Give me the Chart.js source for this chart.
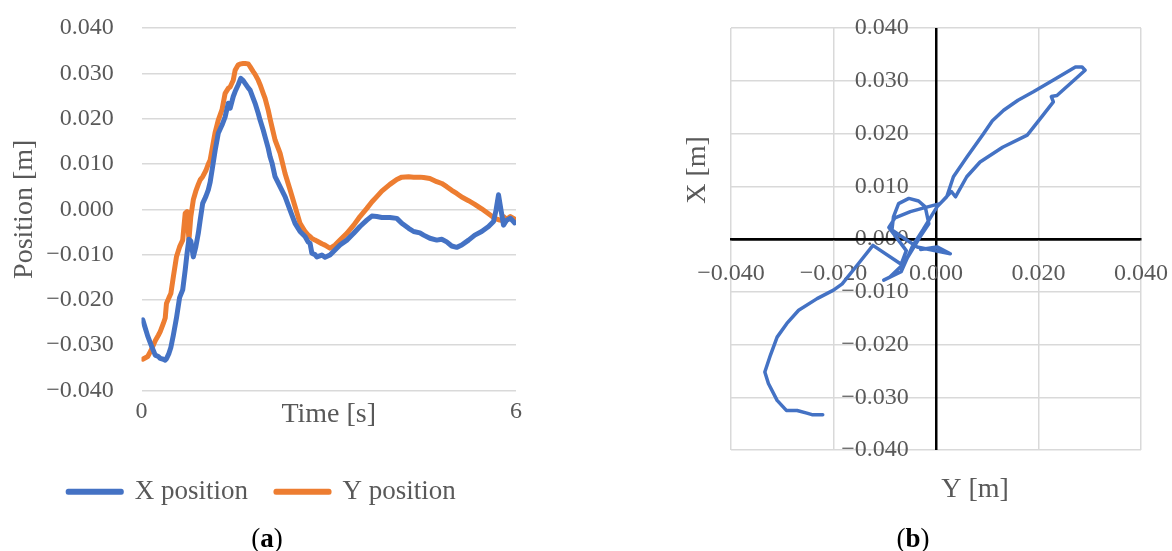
<!DOCTYPE html>
<html>
<head>
<meta charset="utf-8">
<script src="https://cdn.jsdelivr.net/npm/chart.js@4.4.1/dist/chart.umd.min.js"></script>
<style>
  html, body { margin: 0; padding: 0; background: #fff; }
  #wrap { position: relative; width: 1172px; height: 551px; overflow: hidden; font-family: 'Liberation Serif', 'Times New Roman', serif; }
  canvas { position: absolute; top: 0; }
  #chartTime { left: 0; }
  #chartPlane { left: 586px; }
  .cap { position: absolute; top: 522px; font-size: 27px; line-height: 32px; color: #000; transform: translateX(-50%); white-space: nowrap; }
</style>
</head>
<body>
<div id="wrap">
  <canvas id="chartTime" width="560" height="530"></canvas>
  <canvas id="chartPlane" width="586" height="551"></canvas>
  <div class="cap" style="left:267px">(<b>a</b>)</div>
  <div class="cap" style="left:913px">(<b>b</b>)</div>
</div>
<script>
// ---- (a) position over time ----
const time = [0.02, 0.10, 0.15, 0.22, 0.27, 0.30, 0.35, 0.38, 0.40, 0.44, 0.47, 0.51, 0.56, 0.61, 0.66, 0.70, 0.73, 0.76, 0.79, 0.83,
  0.87, 0.91, 0.94, 0.98, 1.03, 1.07, 1.10, 1.14, 1.18, 1.23, 1.29, 1.34, 1.39, 1.42, 1.47, 1.50, 1.55, 1.59, 1.63, 1.66,
  1.71, 1.74, 1.79, 1.82, 1.87, 1.90, 1.95, 1.98, 2.03, 2.06, 2.09, 2.14, 2.22, 2.30, 2.38, 2.46, 2.54, 2.62, 2.67, 2.70,
  2.73, 2.78, 2.81, 2.89, 2.94, 3.02, 3.10, 3.18, 3.29, 3.40, 3.50, 3.61, 3.69, 3.77, 3.85, 3.98, 4.09, 4.17, 4.28, 4.36,
  4.46, 4.52, 4.62, 4.73, 4.81, 4.89, 4.97, 5.05, 5.13, 5.24, 5.34, 5.45, 5.56, 5.64, 5.68, 5.72, 5.76, 5.80, 5.85, 5.91, 5.98];

const xPosition = [-0.0244, -0.0280, -0.0298, -0.0322, -0.0325, -0.0329, -0.0331, -0.0333, -0.0330, -0.0318, -0.0305, -0.0278, -0.0240, -0.0195, -0.0178, -0.0134, -0.0097, -0.0066, -0.0070, -0.0105,
  -0.0083, -0.0053, -0.0024, 0.0013, 0.0028, 0.0043, 0.0060, 0.0095, 0.0130, 0.0168, 0.0186, 0.0204, 0.0234, 0.0223, 0.0249, 0.0260, 0.0275, 0.0289, 0.0284, 0.0278,
  0.0268, 0.0263, 0.0245, 0.0234, 0.0212, 0.0197, 0.0175, 0.0160, 0.0135, 0.0116, 0.0103, 0.0072, 0.0050, 0.0028, -0.0002, -0.0031, -0.0049, -0.0060, -0.0072, -0.0075,
  -0.0097, -0.0100, -0.0105, -0.0101, -0.0106, -0.0101, -0.0090, -0.0079, -0.0068, -0.0053, -0.0038, -0.0024, -0.0015, -0.0016, -0.0018, -0.0018, -0.0020, -0.0031, -0.0042, -0.0049,
  -0.0052, -0.0057, -0.0064, -0.0068, -0.0066, -0.0072, -0.0081, -0.0084, -0.0079, -0.0068, -0.0057, -0.0049, -0.0038, -0.0027, -0.0002, 0.0032, -0.0002, -0.0035, -0.0024, -0.0020, -0.0030];

const yPosition = [-0.0331, -0.0325, -0.0312, -0.0290, -0.0278, -0.0270, -0.0252, -0.0240, -0.0208, -0.0195, -0.0186, -0.0149, -0.0105, -0.0083, -0.0068, -0.0009, -0.0005, -0.0068, -0.0016, 0.0021,
  0.0040, 0.0055, 0.0065, 0.0072, 0.0085, 0.0100, 0.0109, 0.0140, 0.0170, 0.0197, 0.0220, 0.0256, 0.0267, 0.0270, 0.0285, 0.0307, 0.0319, 0.0321, 0.0322, 0.0322,
  0.0321, 0.0315, 0.0304, 0.0298, 0.0285, 0.0275, 0.0256, 0.0245, 0.0219, 0.0200, 0.0182, 0.0153, 0.0124, 0.0079, 0.0043, 0.0006, -0.0031, -0.0049, -0.0057, -0.0060,
  -0.0064, -0.0068, -0.0070, -0.0076, -0.0079, -0.0086, -0.0079, -0.0068, -0.0053, -0.0035, -0.0016, 0.0002, 0.0016, 0.0028, 0.0040, 0.0055, 0.0066, 0.0071, 0.0072, 0.0071,
  0.0071, 0.0070, 0.0068, 0.0061, 0.0057, 0.0050, 0.0042, 0.0035, 0.0027, 0.0019, 0.0011, 0.0001, -0.0010, -0.0018, -0.0021, -0.0023, -0.0024, -0.0016, -0.0022, -0.0016, -0.0022];

const seriesNames = ['X position', 'Y position'];

// ---- (b) trajectory in the plane ----
const planeY = [-0.0221, -0.0242, -0.0252, -0.0271, -0.0292, -0.0310, -0.0327, -0.0334, -0.0323, -0.0310, -0.0291, -0.0268, -0.0232, -0.0200, -0.0183, -0.0150, -0.0123,
  -0.0068, -0.0058, -0.0092, -0.0080, -0.0050, -0.0020, 0.0008, 0.0030, 0.0038, 0.0060, 0.0086, 0.0130, 0.0178, 0.0205, 0.0229, 0.0225, 0.0236, 0.0291, 0.0285, 0.0272,
  0.0230, 0.0190, 0.0160, 0.0132, 0.0110, 0.0093, 0.0060, 0.0034, 0.0021, 0.0002, -0.0025, -0.0045, -0.0068, -0.0102, -0.0090, -0.0063, -0.0031, -0.0014,
  -0.0021, -0.0034, -0.0053, -0.0073, -0.0083, -0.0086, -0.0060, -0.0037, 0.0028, 0.0002, -0.0030];

const planeX = [-0.0333, -0.0333, -0.0330, -0.0325, -0.0325, -0.0306, -0.0274, -0.0252, -0.0220, -0.0186, -0.0160, -0.0135, -0.0113, -0.0097, -0.0085, -0.0045, -0.0012,
  -0.0048, -0.0022, 0.0022, 0.0040, 0.0052, 0.0060, 0.0067, 0.0090, 0.0080, 0.0118, 0.0146, 0.0174, 0.0197, 0.0230, 0.0260, 0.0270, 0.0272, 0.0320, 0.0326, 0.0326,
  0.0302, 0.0279, 0.0263, 0.0244, 0.0224, 0.0200, 0.0155, 0.0118, 0.0080, 0.0061, 0.0018, -0.0012, -0.0062, -0.0078, -0.0072, -0.0047, 0.0004, 0.0029,
  0.0061, 0.0072, 0.0077, 0.0067, 0.0042, 0.0017, 0.0000, -0.0015, -0.0028, -0.0015, -0.0020];

const BLUE = '#4472C4';
const ORANGE = '#ED7D31';
const GRID = '#d9d9d9';
const TEXT = '#595959';
const FAMILY = "'Liberation Serif', 'Times New Roman', serif";

Chart.defaults.font.family = FAMILY;
Chart.defaults.color = TEXT;

const fmt = v => (Math.abs(v) < 1e-9 ? 0 : v).toFixed(3).replace('-', '\u2212');

const lineStyle = color => ({
  borderColor: color, backgroundColor: color, borderWidth: 5,
  pointRadius: 0, tension: 0, borderJoinStyle: 'round', borderCapStyle: 'round'
});

// hidden tick marks keep labels away from the plot without widening the layout padding
const spacer = len => ({ drawTicks: true, tickLength: len, tickColor: 'rgba(0,0,0,0)' });

new Chart(document.getElementById('chartTime'), {
  type: 'line',
  data: {
    datasets: [
      Object.assign({ label: seriesNames[0], data: time.map((t, i) => ({ x: t, y: xPosition[i] })) }, lineStyle(BLUE)),
      Object.assign({ label: seriesNames[1], data: time.map((t, i) => ({ x: t, y: yPosition[i] })) }, lineStyle(ORANGE))
    ]
  },
  options: {
    responsive: false,
    animation: false,
    events: [],
    layout: { padding: { left: 8, right: 44, top: 28.1, bottom: 14.8 } },
    plugins: {
      legend: {
        position: 'bottom',
        labels: { boxWidth: 53, boxHeight: 1, padding: 28, font: { size: 27 }, color: TEXT }
      },
      tooltip: { enabled: false }
    },
    scales: {
      x: {
        type: 'linear', min: 0, max: 6,
        afterFit: s => { s.height = 59.7; },
        grid: Object.assign({ display: true, drawOnChartArea: false }, spacer(7)),
        border: { display: false },
        ticks: { stepSize: 6, padding: 0, font: { size: 24 }, color: TEXT },
        title: { display: true, text: 'Time [s]', font: { size: 28 }, color: TEXT, padding: { top: 0, bottom: 18.4 } }
      },
      y: {
        type: 'linear', min: -0.04, max: 0.04,
        afterFit: s => { s.width = 133.5; },
        grid: Object.assign({ color: GRID, lineWidth: 1.5 }, spacer(27.8)),
        border: { display: false },
        ticks: { stepSize: 0.01, padding: 0, font: { size: 24 }, color: TEXT, callback: v => fmt(v) },
        title: { display: true, text: 'Position [m]', font: { size: 28 }, color: TEXT, padding: { top: 0, bottom: 0 } }
      }
    }
  }
});

// axis titles for the plane view, whose axes cross at the origin
const planeTitles = {
  id: 'planeTitles',
  afterDraw(chart, args, opts) {
    const ctx = chart.ctx;
    ctx.save();
    ctx.fillStyle = opts.color;
    ctx.font = opts.size + 'px ' + FAMILY;
    ctx.textAlign = 'center';
    ctx.textBaseline = 'middle';
    ctx.fillText(opts.bottom.text, opts.bottom.x, opts.bottom.y);
    ctx.translate(opts.left.x, opts.left.y);
    ctx.rotate(-Math.PI / 2);
    ctx.fillText(opts.left.text, 0, 0);
    ctx.restore();
  }
};

const isZero = c => c.tick && Math.abs(c.tick.value) < 1e-9;
const zeroGrid = {
  color: c => (isZero(c) ? '#000' : GRID),
  lineWidth: c => (isZero(c) ? 2.5 : 1.5)
};

new Chart(document.getElementById('chartPlane'), {
  type: 'scatter',
  data: {
    datasets: [{
      data: planeY.map((v, i) => ({ x: v, y: planeX[i] })),
      showLine: true, borderColor: BLUE, backgroundColor: BLUE, borderWidth: 3.5,
      pointRadius: 0, tension: 0, borderJoinStyle: 'round', borderCapStyle: 'round'
    }]
  },
  options: {
    responsive: false,
    animation: false,
    events: [],
    layout: { padding: { left: 145, right: 31, top: 28, bottom: 101 } },
    plugins: {
      legend: { display: false },
      tooltip: { enabled: false },
      planeTitles: {
        color: TEXT, size: 28,
        left: { text: 'X [m]', x: 112, y: 170 },
        bottom: { text: 'Y [m]', x: 389, y: 490 }
      }
    },
    scales: {
      // vertical value labels sit just left of the zero line
      y: {
        type: 'linear', position: { x: -0.0053 }, min: -0.04, max: 0.04,
        grid: Object.assign({ drawTicks: false }, zeroGrid),
        border: { display: false },
        ticks: { stepSize: 0.01, padding: 0, font: { size: 24 }, color: TEXT, callback: v => fmt(v) }
      },
      x: {
        type: 'linear', position: { y: 0 }, min: -0.04, max: 0.04,
        grid: Object.assign({}, zeroGrid, spacer(20)),
        border: { color: '#000', width: 2.5 },
        ticks: { stepSize: 0.02, padding: 0, font: { size: 24 }, color: TEXT, callback: v => fmt(v) }
      }
    }
  },
  plugins: [planeTitles]
});
</script>
</body>
</html>
